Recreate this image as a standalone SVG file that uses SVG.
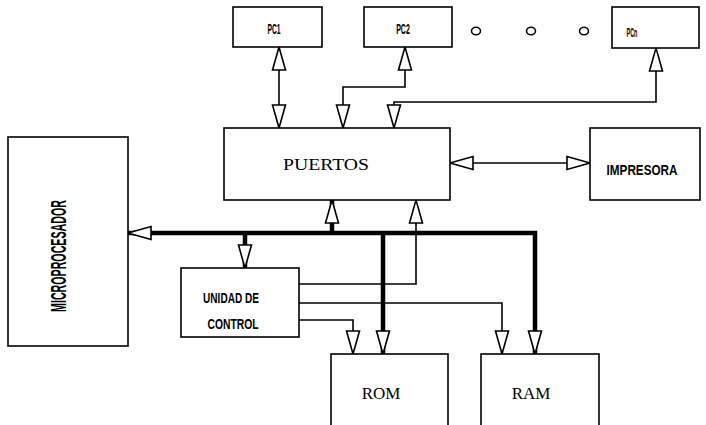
<svg xmlns="http://www.w3.org/2000/svg" width="706" height="425" viewBox="0 0 706 425">
<style>
.box{fill:#fff;stroke:#000;stroke-width:1.6}
.thin{fill:none;stroke:#000;stroke-width:1.6}
.thick{fill:none;stroke:#000;stroke-width:4.5}
.serif{font-family:"Liberation Serif","Times New Roman",serif;fill:#000}
.cond{font-family:"Liberation Sans",Arial,sans-serif;font-weight:bold;fill:#000;text-anchor:middle}
</style>
<defs>
<marker id="a" markerUnits="userSpaceOnUse" markerWidth="26" markerHeight="16" viewBox="0 0 26 16" refX="24" refY="8" orient="auto-start-reverse">
<path d="M1,1.5 L24,8 L1,14.5 Z" fill="#fff" stroke="#000" stroke-width="1.6"/>
</marker>
</defs>
<rect width="706" height="425" fill="#fff"/>
<g id="connectors">
<path class="thin" d="M279,47 V128" marker-start="url(#a)" marker-end="url(#a)"/>
<path class="thin" d="M405,47 V87 H343 V128" marker-start="url(#a)" marker-end="url(#a)"/>
<path class="thin" d="M656,48 V102 H394 V128" marker-start="url(#a)" marker-end="url(#a)"/>
<path class="thin" d="M450,163 H590" marker-start="url(#a)" marker-end="url(#a)"/>
<path class="thick" d="M128,233 H535 V354" marker-start="url(#a)" marker-end="url(#a)"/>
<path class="thick" d="M332,233 V200" marker-end="url(#a)"/>
<path class="thick" d="M245,233 V268" marker-end="url(#a)"/>
<path class="thick" d="M383,233 V354" marker-end="url(#a)"/>
<path class="thin" d="M299,284 H416 V200" marker-end="url(#a)"/>
<path class="thin" d="M299,303 H502 V354" marker-end="url(#a)"/>
<path class="thin" d="M299,320 H353 V354" marker-end="url(#a)"/>
</g>
<g id="pc1"><rect class="box" x="233" y="7" width="89" height="40"/><text class="cond" transform="translate(274,34) scale(0.45,1)" style="font-size:15px">PC1</text></g>
<g id="pc2"><rect class="box" x="364" y="7" width="88" height="40"/><text class="cond" transform="translate(403,34) scale(0.47,1)" style="font-size:15px">PC2</text></g>
<g id="dots"><ellipse cx="476" cy="31" rx="4.5" ry="3.8" fill="none" stroke="#000" stroke-width="1.5"/><ellipse cx="531" cy="31" rx="4.5" ry="3.8" fill="none" stroke="#000" stroke-width="1.5"/><ellipse cx="584" cy="31" rx="4.5" ry="3.8" fill="none" stroke="#000" stroke-width="1.5"/></g>
<g id="pcn"><rect class="box" x="612" y="7" width="87" height="41"/><text class="cond" transform="translate(632,37) scale(0.42,1)" style="font-size:13px">PCn</text></g>
<g id="puertos"><rect class="box" x="224" y="128" width="226" height="72"/><text class="serif" x="326" y="170" style="font-size:17px" text-anchor="middle" textLength="86" lengthAdjust="spacingAndGlyphs">PUERTOS</text></g>
<g id="impresora"><rect class="box" x="590" y="128" width="110" height="72"/><text class="cond" transform="translate(642,175) scale(0.78,1)" style="font-size:15px">IMPRESORA</text></g>
<g id="microprocesador"><rect class="box" x="8" y="137" width="120" height="209"/><text class="cond" transform="translate(66,256) rotate(-90) scale(0.485,1)" style="font-size:22px">MICROPROCESADOR</text></g>
<g id="unidad"><rect class="box" x="181" y="268" width="118" height="69"/><text class="cond" transform="translate(231,303) scale(0.67,1)" style="font-size:15px">UNIDAD DE</text><text class="cond" transform="translate(233,329) scale(0.69,1)" style="font-size:15px">CONTROL</text></g>
<g id="rom"><rect class="box" x="331" y="354" width="117" height="80"/><text class="serif" x="381" y="399" style="font-size:17px" text-anchor="middle">ROM</text></g>
<g id="ram"><rect class="box" x="481" y="354" width="118" height="80"/><text class="serif" x="531" y="399" style="font-size:17px" text-anchor="middle">RAM</text></g>
</svg>
